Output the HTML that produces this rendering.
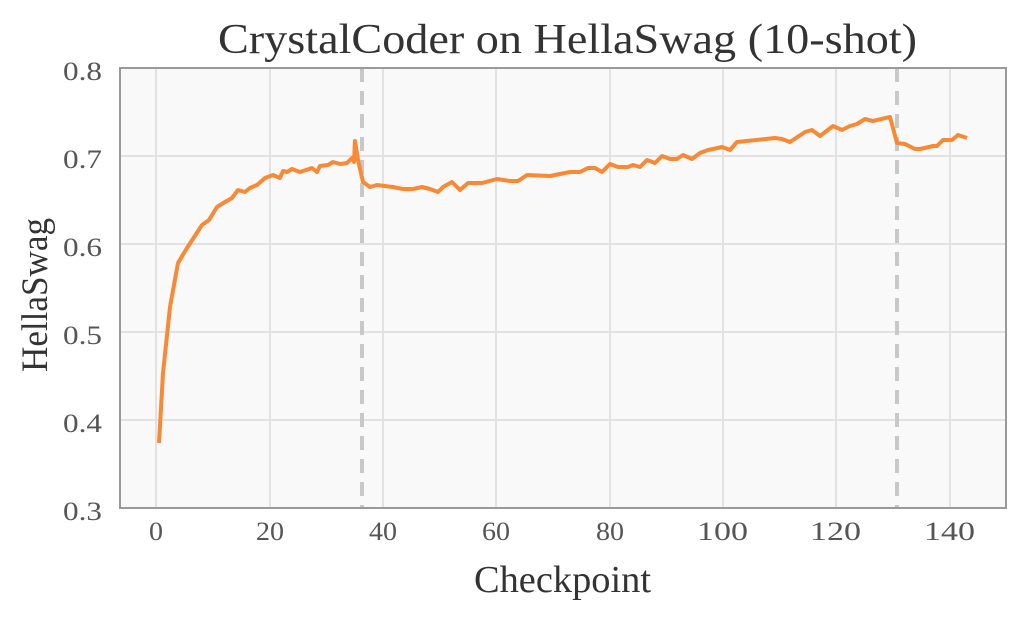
<!DOCTYPE html>
<html><head><style>body{margin:0;background:#fff}</style></head><body>
<svg width="1024" height="617" xmlns="http://www.w3.org/2000/svg" font-family="Liberation Serif, serif">
<rect x="120" y="68" width="886" height="440" fill="#f9f9f9"/>
<g stroke="#e2e2e2" stroke-width="2">
<line x1="156" y1="68" x2="156" y2="508"/><line x1="270" y1="68" x2="270" y2="508"/><line x1="383" y1="68" x2="383" y2="508"/><line x1="496" y1="68" x2="496" y2="508"/><line x1="610" y1="68" x2="610" y2="508"/><line x1="723" y1="68" x2="723" y2="508"/><line x1="836" y1="68" x2="836" y2="508"/><line x1="950" y1="68" x2="950" y2="508"/>
<line x1="120" y1="156" x2="1006" y2="156"/><line x1="120" y1="244" x2="1006" y2="244"/><line x1="120" y1="332" x2="1006" y2="332"/><line x1="120" y1="420" x2="1006" y2="420"/>
</g>
<g stroke="#c8c8c8" stroke-width="4" stroke-dasharray="14,9">
<line x1="362" y1="68" x2="362" y2="508"/><line x1="897" y1="68" x2="897" y2="508"/>
</g>
<polyline fill="none" stroke="#f98935" stroke-width="4" stroke-linejoin="round" points="159,443 163,373 170,307 178,263 187,248 202,225 209,220 217,207 225,202 232,198 238,190 245,192 250,188 257,185 265,178 273,175 280,178 283,171 287,172 292,169 300,172 312,168 317,172 320,166 328,165 333,162 340,164 347,163 352,158 354,162 355,141 358,160 363,182 370,187 377,185 393,187 403,189 413,189 422,187 430,189 438,192 443,187 452,182 460,190 468,183 482,183 497,179 510,181 518,181 527,175 550,176 570,172 580,172 588,168 595,168 602,172 610,164 618,167 628,167 633,165 640,167 647,160 655,163 662,156 670,159 677,159 683,155 692,159 700,153 708,150 713,149 722,147 730,150 737,142 775,138 782,139 790,142 805,132 812,130 820,136 833,126 842,130 850,126 857,124 865,119 873,121 890,117 897,143 905,144 915,149 920,149 933,146 937,146 943,140 952,140 958,135 967,138"/>
<rect x="120" y="68" width="886" height="440" fill="none" stroke="#999" stroke-width="2"/>
<g fill="#555" font-size="26">
<text x="63" y="80" textLength="39" lengthAdjust="spacingAndGlyphs">0.8</text>
<text x="63" y="168" textLength="39" lengthAdjust="spacingAndGlyphs">0.7</text>
<text x="63" y="256" textLength="39" lengthAdjust="spacingAndGlyphs">0.6</text>
<text x="63" y="344" textLength="39" lengthAdjust="spacingAndGlyphs">0.5</text>
<text x="63" y="432" textLength="39" lengthAdjust="spacingAndGlyphs">0.4</text>
<text x="63" y="520" textLength="39" lengthAdjust="spacingAndGlyphs">0.3</text>
</g>
<g fill="#555" font-size="26">
<text x="149" y="540" textLength="14" lengthAdjust="spacingAndGlyphs">0</text>
<text x="256" y="540" textLength="28" lengthAdjust="spacingAndGlyphs">20</text>
<text x="369" y="540" textLength="28" lengthAdjust="spacingAndGlyphs">40</text>
<text x="482" y="540" textLength="28" lengthAdjust="spacingAndGlyphs">60</text>
<text x="596" y="540" textLength="28" lengthAdjust="spacingAndGlyphs">80</text>
<text x="697" y="540" textLength="51" lengthAdjust="spacingAndGlyphs">100</text>
<text x="810" y="540" textLength="51" lengthAdjust="spacingAndGlyphs">120</text>
<text x="924" y="540" textLength="51" lengthAdjust="spacingAndGlyphs">140</text>
</g>
<text x="474" y="592" font-size="38" fill="#333" textLength="177" lengthAdjust="spacingAndGlyphs">Checkpoint</text>
<text transform="translate(47,372) rotate(-90)" font-size="37" fill="#333" textLength="154" lengthAdjust="spacingAndGlyphs">HellaSwag</text>
<text x="218" y="53" font-size="42" fill="#333" textLength="699" lengthAdjust="spacingAndGlyphs">CrystalCoder on HellaSwag (10-shot)</text>
</svg>
</body></html>
